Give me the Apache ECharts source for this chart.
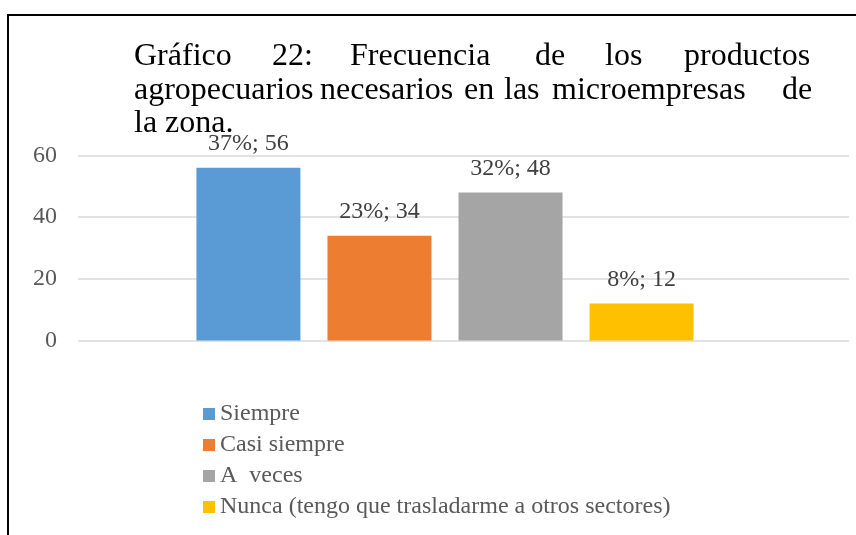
<!DOCTYPE html>
<html>
<head>
<meta charset="utf-8">
<script src="https://cdn.jsdelivr.net/npm/echarts@6/dist/echarts.min.js"></script>
<style>
  html, body { margin: 0; padding: 0; background: #fff; }
  #chart { width: 856px; height: 535px; }
</style>
</head>
<body>
<div id="chart"></div>
<script>
// datos del gráfico
const seriesNames = ['Siempre', 'Casi siempre', 'A  veces', 'Nunca (tengo que trasladarme a otros sectores)'];
const seriesValues = [56, 34, 48, 12];
const seriesColors = ['#5B9BD5', '#ED7D31', '#A5A5A5', '#FFC000'];
const yTicks = { min: 0, max: 60, interval: 20 };

// título justificado: palabras por línea
const titleLines = [
    ['Gráfico', '22:', 'Frecuencia', 'de', 'los', 'productos'],
    ['agropecuarios', 'necesarios', 'en', 'las', 'microempresas', 'de'],
    ['la', 'zona.']
];

const SERIF = "'Liberation Serif', 'Times New Roman', serif";
const total = seriesValues.reduce((a, b) => a + b, 0);

document.addEventListener('DOMContentLoaded', function () {
    const myChart = echarts.init(document.getElementById('chart'));

    // posiciones x de cada palabra (justificado como en Word)
    const wordX = [
        [134, 272, 350, 535, 605, 684],
        [134, 320, 464, 504, 552, 782],
        [134, 165]
    ];
    const lineY = [57, 91, 124];

    const titleGraphics = [];
    titleLines.forEach((words, li) => {
        words.forEach((w, wi) => {
            titleGraphics.push({
                type: 'text',
                style: {
                    x: wordX[li][wi],
                    y: lineY[li],
                    text: w,
                    font: '32px ' + SERIF,
                    fill: '#000',
                    textVerticalAlign: 'middle'
                }
            });
        });
    });

    // marco (borde superior e izquierdo)
    const frame = {
        type: 'polyline',
        shape: { points: [[8, 535], [8, 15], [856, 15]] },
        style: { stroke: '#000', lineWidth: 2, fill: null }
    };

    const option = {
        animation: false,
        backgroundColor: '#fff',
        graphic: [frame].concat(titleGraphics),
        legend: {
            orient: 'vertical',
            left: 198,
            top: 397,
            icon: 'rect',
            itemWidth: 12,
            itemHeight: 12,
            itemGap: 7,
            textStyle: { fontFamily: SERIF, fontSize: 24, color: '#595959' },
            data: seriesNames
        },
        grid: [
            { left: 78, right: 7, top: 155.5, height: 185 },
            { left: 78, width: 734, top: 155.5, height: 185 }
        ],
        xAxis: [
            {
                gridIndex: 0, type: 'category', data: [''],
                axisLine: { show: false }, axisTick: { show: false }, axisLabel: { show: false }
            },
            {
                gridIndex: 1, type: 'category', data: [''],
                axisLine: { show: false }, axisTick: { show: false }, axisLabel: { show: false }
            }
        ],
        yAxis: [
            {
                gridIndex: 0, type: 'value',
                min: yTicks.min, max: yTicks.max, interval: yTicks.interval,
                axisLine: { show: false }, axisTick: { show: false },
                axisLabel: { fontFamily: SERIF, fontSize: 24, color: '#595959', margin: 21 },
                splitLine: { lineStyle: { color: '#d9d9d9', width: 1.5 } }
            },
            {
                gridIndex: 1, type: 'value',
                min: yTicks.min, max: yTicks.max, interval: yTicks.interval,
                show: false, splitLine: { show: false }
            }
        ],
        series: seriesNames.map((name, i) => ({
            name: name,
            type: 'bar',
            xAxisIndex: 1,
            yAxisIndex: 1,
            barWidth: 104,
            barGap: '26%',
            itemStyle: { color: seriesColors[i] },
            label: {
                show: true,
                position: 'top',
                distance: 12,
                fontFamily: SERIF,
                fontSize: 24,
                color: '#404040',
                formatter: p => Math.round(p.value / total * 100) + '%; ' + p.value
            },
            data: [seriesValues[i]]
        }))
    };

    myChart.setOption(option);
});
</script>
</body>
</html>
